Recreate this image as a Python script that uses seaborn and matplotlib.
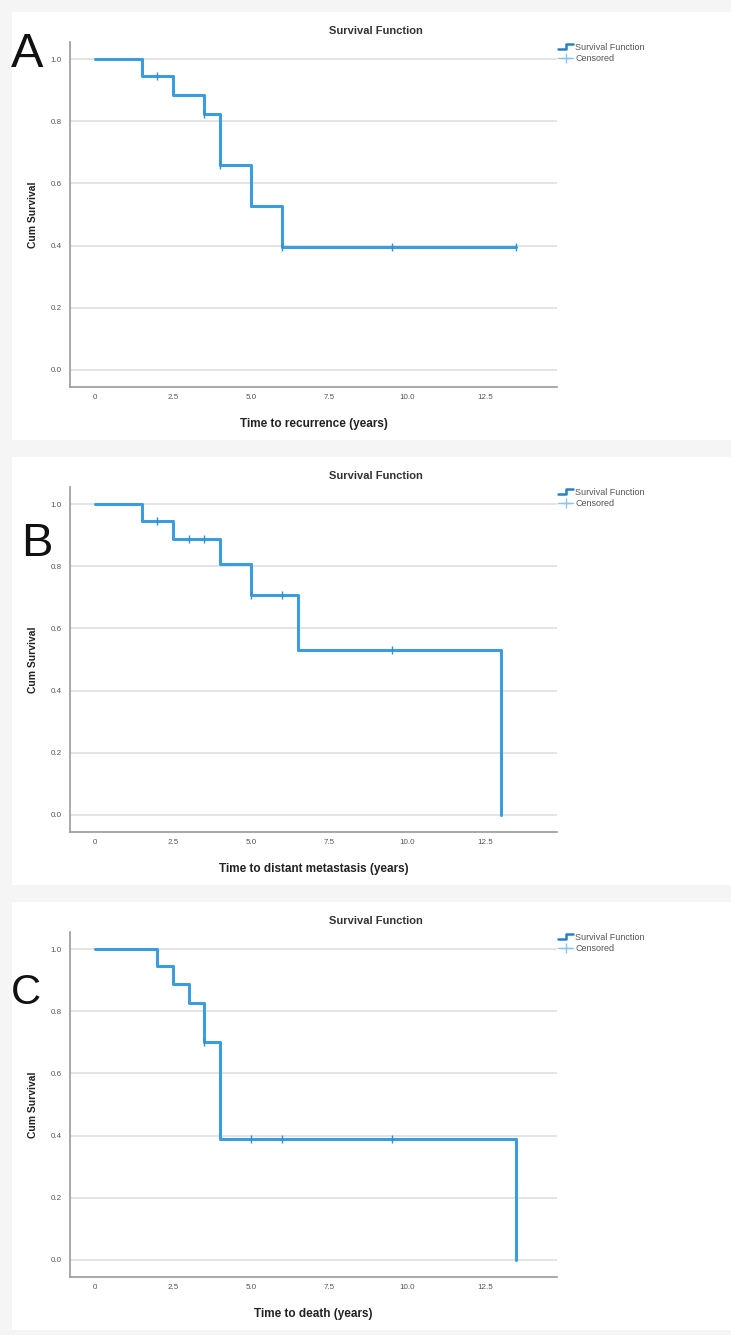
import numpy as np
import pandas as pd
import matplotlib
matplotlib.use("Agg")
import matplotlib.pyplot as plt
import seaborn as sns
from matplotlib.lines import Line2D
from matplotlib.patches import Rectangle
from matplotlib.legend_handler import HandlerBase

# step times (start of each level) and survival level
times_a = [0, 1.5, 2.5, 3.5, 4.0, 5.0, 6.0, 13.5]
surv_a = [1.0, 0.947, 0.886, 0.822, 0.658, 0.527, 0.395, 0.395]
cens_a = [2.0, 3.5, 4.0, 6.0, 9.5, 13.5]

times_b = [0, 1.5, 2.5, 4.0, 5.0, 6.5, 13.0]
surv_b = [1.0, 0.947, 0.887, 0.807, 0.707, 0.530, 0.0]
cens_b = [2.0, 3.0, 3.5, 5.0, 6.0, 9.5]

times_c = [0, 2.0, 2.5, 3.0, 3.5, 4.0, 13.5]
surv_c = [1.0, 0.945, 0.887, 0.825, 0.700, 0.390, 0.0]
cens_c = [3.5, 5.0, 6.0, 9.5]

panels = [
    ("A", times_a, surv_a, cens_a, "Time to recurrence (years)"),
    ("B", times_b, surv_b, cens_b, "Time to distant metastasis (years)"),
    ("C", times_c, surv_c, cens_c, "Time to death (years)"),
]
# letter: left px, baseline px, font size
letter_pos = {"A": (11, 67, 35), "B": (21, 556, 34), "C": (11, 1004, 30)}

x_ticks = [0, 2.5, 5.0, 7.5, 10.0, 12.5]
x_ticklabels = ["0", "2.5", "5.0", "7.5", "10.0", "12.5"]
y_ticks = [0.0, 0.2, 0.4, 0.6, 0.8, 1.0]

blue = "#3b9ddd"

sns.set_theme(style="white")
plt.rcParams["font.family"] = ["Liberation Sans", "DejaVu Sans"]

W, H = 731, 1335
fig = plt.figure(figsize=(W / 100, H / 100), dpi=100)
fig.patch.set_facecolor("#f5f5f5")


def rect(left, top, right, bottom):
    return [left / W, 1 - bottom / H, (right - left) / W, (bottom - top) / H]


class StepHandler(HandlerBase):
    def create_artists(self, legend, orig_handle, xd, yd, width, height, fontsize, trans):
        xs = [xd, xd + width * 0.5, xd + width * 0.5, xd + width]
        ys = [yd + height * 0.1, yd + height * 0.1, yd + height * 0.9, yd + height * 0.9]
        ln = Line2D(xs, ys, color="#2a7fc2", lw=1.8, transform=trans)
        return [ln]


for i, (letter, times, surv, cens, xlabel) in enumerate(panels):
    off = i * 445
    # white panel
    fig.patches.append(Rectangle((12 / W, 1 - (440 + off) / H), (W - 12) / W, 428 / H,
                                 transform=fig.transFigure, facecolor="white",
                                 edgecolor="none", zorder=-1))
    ax = fig.add_axes(rect(70, 42 + off, 557, 387 + off))
    ax.set_facecolor("white")

    df = pd.DataFrame({"time": times, "surv": surv})
    sns.lineplot(data=df, x="time", y="surv", estimator=None, sort=False,
                 drawstyle="steps-post", color=blue, linewidth=2.2, ax=ax, zorder=3)

    idx = np.searchsorted(times, cens, side="right") - 1
    cdf = pd.DataFrame({"time": cens, "surv": np.array(surv)[idx]})
    sns.scatterplot(data=cdf, x="time", y="surv", marker="|", s=35, color="#2f8fd0",
                    linewidth=1.0, ax=ax, zorder=4)

    ax.set_xlim(-0.8, 14.8)
    ax.set_ylim(-0.055, 1.055)
    ax.set_xticks(x_ticks)
    ax.set_xticklabels(x_ticklabels)
    ax.set_yticks(y_ticks)
    ax.set_yticklabels([f"{v:.1f}" for v in y_ticks])
    ax.tick_params(axis="both", length=0, labelsize=5.8, colors="#555555")
    ax.tick_params(axis="y", pad=6)
    ax.tick_params(axis="x", pad=5)
    ax.grid(axis="y", color="#dcdcdc", linewidth=1.1, zorder=0)
    ax.set_axisbelow(True)
    for s in ["top", "right"]:
        ax.spines[s].set_visible(False)
    for s in ["left", "bottom"]:
        ax.spines[s].set_color("#9a9a9a")
        ax.spines[s].set_linewidth(1.2)

    ax.set_xlabel(xlabel, fontsize=8.5, fontweight="bold", color="#222222", labelpad=12)
    ax.set_ylabel("Cum Survival", fontsize=7.5, fontweight="bold", color="#222222", labelpad=9)
    ax.set_title("Survival Function", fontsize=8, fontweight="bold", color="#333333",
                 x=(376 - 70) / 487, pad=6)

    h1 = Line2D([], [], color="#2a7fc2")
    h2 = Line2D([], [], color="#8cc4ec", marker="+", markersize=7, lw=1.0)
    ax.legend([h1, h2], ["Survival Function", "Censored"],
              handler_map={h1: StepHandler()},
              loc="upper left", bbox_to_anchor=((557 - 70) / 487, 1.0),
              frameon=False, fontsize=6.5, handlelength=1.7, handletextpad=0.2,
              labelspacing=0.25, borderaxespad=0, borderpad=0.1, labelcolor="#555555")

    lx, ly, fs = letter_pos[letter]
    fig.text(lx / W, 1 - ly / H, letter, fontsize=fs, ha="left", va="baseline", color="#111111")

fig.savefig("out.png", dpi=100, facecolor=fig.get_facecolor())
